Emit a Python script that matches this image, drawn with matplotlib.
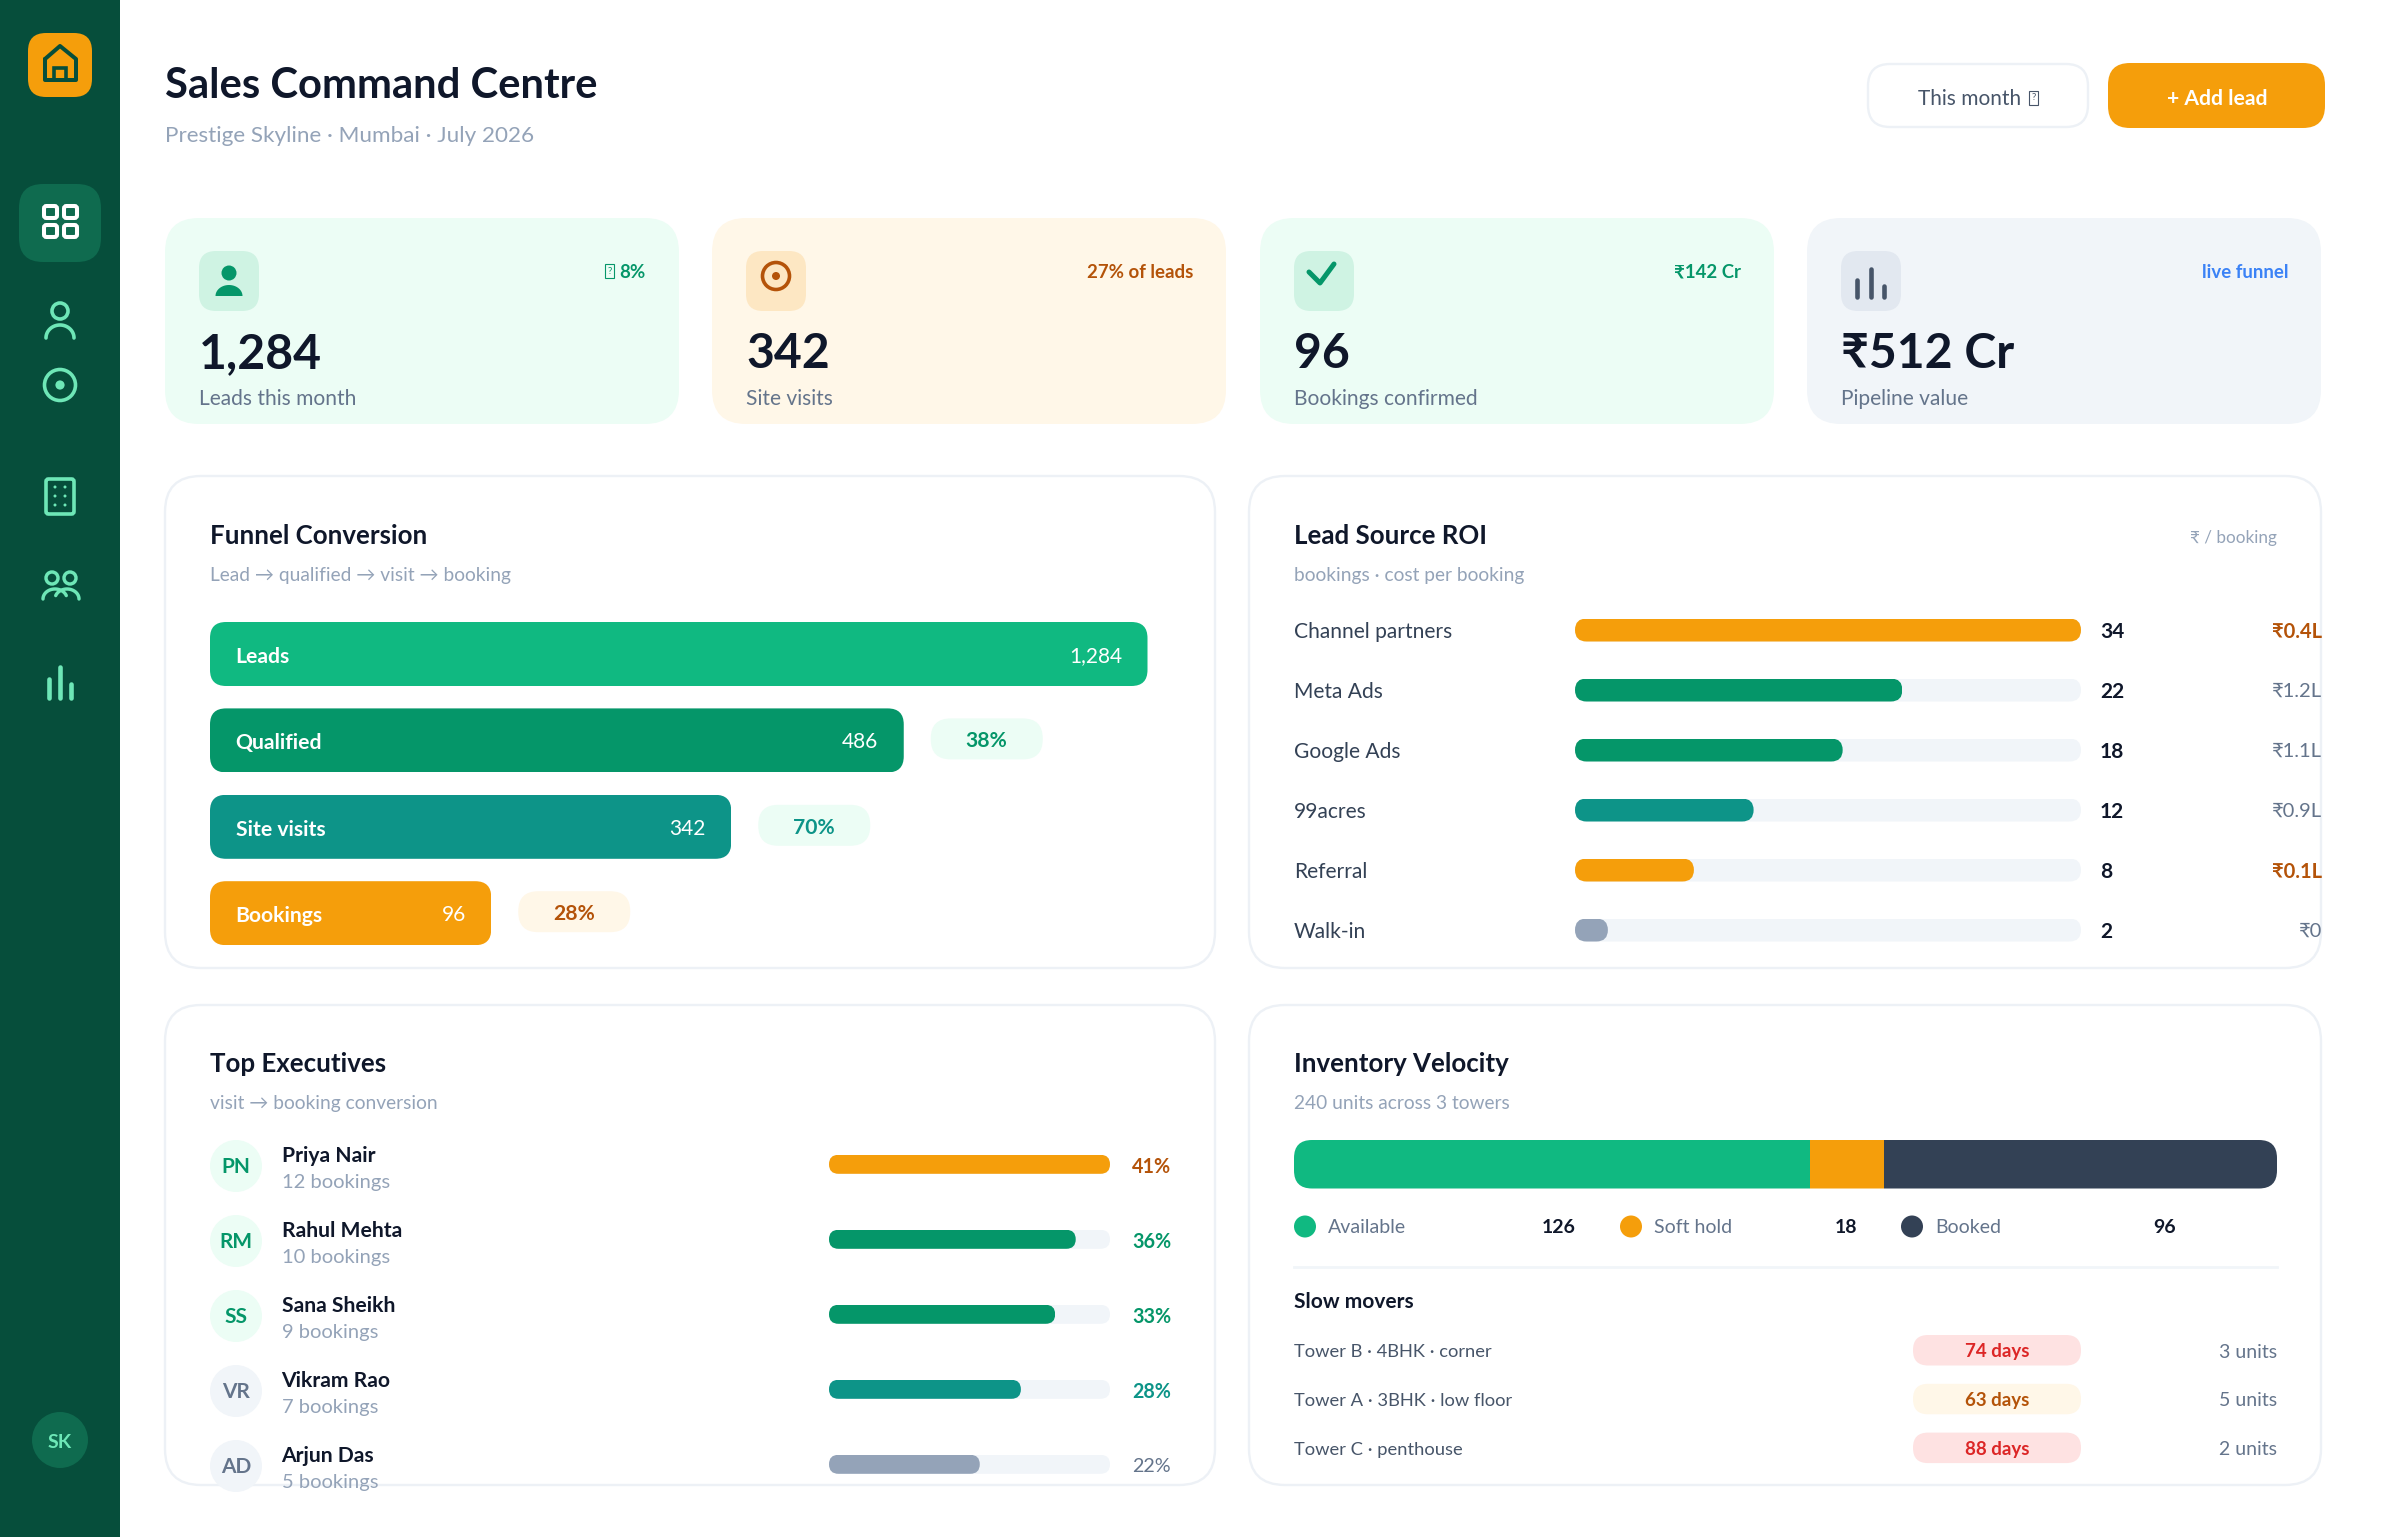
import numpy as np
import matplotlib
matplotlib.use("Agg")
import matplotlib.pyplot as plt
from matplotlib.patches import FancyBboxPatch, Circle, Rectangle

plt.rcParams['font.family'] = ['Lato', 'Noto Sans', 'DejaVu Sans']

# === Datos ===
kpi_values = ["1,284", "342", "96", "₹512 Cr"]
kpi_labels = ["Leads this month", "Site visits", "Bookings confirmed", "Pipeline value"]
kpi_badges = ["8%", "27% of leads", "₹142 Cr", "live funnel"]

funnel_names = ["Leads", "Qualified", "Site visits", "Bookings"]
funnel_counts = ["1,284", "486", "342", "96"]
funnel_width_pct = [100, 74, 55.6, 30]
funnel_rates = ["", "38%", "70%", "28%"]

roi_sources = ["Channel partners", "Meta Ads", "Google Ads", "99acres", "Referral", "Walk-in"]
roi_bookings = [34, 22, 18, 12, 8, 2]
roi_fill_pct = [100, 64.7, 52.9, 35.3, 23.5, 6.5]
roi_costs = ["₹0.4L", "₹1.2L", "₹1.1L", "₹0.9L", "₹0.1L", "₹0"]

exec_initials = ["PN", "RM", "SS", "VR", "AD"]
exec_names = ["Priya Nair", "Rahul Mehta", "Sana Sheikh", "Vikram Rao", "Arjun Das"]
exec_bookings = [12, 10, 9, 7, 5]
exec_conversion = [41, 36, 33, 28, 22]

inv_labels = ["Available", "Soft hold", "Booked"]
inv_units = [126, 18, 96]

slow_names = ["Tower B · 4BHK · corner", "Tower A · 3BHK · low floor", "Tower C · penthouse"]
slow_days = [74, 63, 88]
slow_units = [3, 5, 2]

# === Colores ===
SIDE = "#064E3B"
SIDE2 = "#0F6B4F"
MINT = "#6EE7B7"
INK = "#0F172A"
SLATE = "#64748B"
SLATE2 = "#475569"
MUTED = "#94A3B8"
LINE = "#EDF1F6"
TRACK = "#F1F5F9"
GREEN = "#10B981"
GREEN2 = "#059669"
TEAL = "#0D9488"
AMBER = "#F59E0B"
BROWN = "#B45309"
NAVY = "#334155"
RED = "#DC2626"

W, H = 2400, 1538
fig = plt.figure(figsize=(W / 100, H / 100), dpi=100, facecolor="white")

# bg: tarjetas, sub-ejes: barras, fg: textos e iconos
bg = fig.add_axes([0, 0, 1, 1], zorder=0)
fg = fig.add_axes([0, 0, 1, 1], zorder=2)
for a in (bg, fg):
    a.set_xlim(0, W)
    a.set_ylim(H, 0)
    a.axis("off")
    a.patch.set_alpha(0)


def rbox(ax, x, y, w, h, r, fc, ec="none", lw=0):
    p = FancyBboxPatch((x, y), w, h, boxstyle=f"round,pad=0,rounding_size={r}",
                       fc=fc, ec=ec, lw=lw)
    ax.add_patch(p)
    return p


def txt(x, y, s, size, color, weight="normal", ha="left"):
    fg.text(x, y, s, fontsize=size, color=color, fontweight=weight, ha=ha, va="center")


def line(xs, ys, color, lw):
    fg.plot(xs, ys, color=color, lw=lw * 0.72, solid_capstyle="round", solid_joinstyle="round")


def arc(cx, cy, rx, ry, a0, a1, color, lw):
    t = np.radians(np.linspace(a0, a1, 60))
    line(cx + rx * np.cos(t), cy + ry * np.sin(t), color, lw)


def ring(cx, cy, r, color, lw):
    fg.add_patch(Circle((cx, cy), r, fc="none", ec=color, lw=lw * 0.72))


def dot(cx, cy, r, color):
    fg.add_patch(Circle((cx, cy), r, fc=color, ec="none"))


def tofu(x, y, color):
    # el glifo que falta en la referencia
    fg.add_patch(Rectangle((x, y - 7), 9, 14, fc="none", ec=color, lw=0.8))
    fg.text(x + 4.5, y, "?", fontsize=7, color=color, ha="center", va="center")


def sub_axes(x, y, w, h, xlim, ylim):
    a = fig.add_axes([x / W, 1 - (y + h) / H, w / W, h / H], zorder=1)
    a.set_xlim(*xlim)
    a.set_ylim(*ylim)
    a.axis("off")
    a.patch.set_alpha(0)
    return a


def round_clip(ax, bar, r):
    # recorta la barra con esquinas redondeadas, en pixeles de la imagen
    x, y = bar.get_x(), bar.get_y()
    pts = ax.transData.transform([(x, y), (x + bar.get_width(), y + bar.get_height())])
    (x0, y0), (x1, y1) = bg.transData.inverted().transform(pts)
    clip = FancyBboxPatch((min(x0, x1), min(y0, y1)), abs(x1 - x0), abs(y1 - y0),
                          boxstyle=f"round,pad=0,rounding_size={r}",
                          transform=bg.transData)
    bar.set_clip_path(clip)


def round_barh(ax, rows, vals, colors, height, r):
    bars = ax.barh(rows, vals, height=height, color=colors, lw=0)
    for b in bars:
        round_clip(ax, b, r)
    return bars


# === Barra lateral ===
bg.add_patch(Rectangle((0, 0), 120, 1537, fc=SIDE, ec="none"))
rbox(bg, 28, 33, 64, 64, 18, AMBER)
line([45, 60, 76, 76, 45, 45], [59, 46, 59, 80, 80, 59], SIDE, 4)
fg.add_patch(Rectangle((54, 68), 12, 12, fc="none", ec=SIDE, lw=2.6))

rbox(bg, 19, 184, 82, 78, 24, SIDE2)
for gx, gy in [(44, 206), (64, 206), (44, 225), (64, 225)]:
    fg.add_patch(FancyBboxPatch((gx, gy), 13, 12, boxstyle="round,pad=0,rounding_size=2.5",
                                fc="none", ec="white", lw=2.9))

ring(60, 311, 8, MINT, 3.6)
arc(60, 338, 14, 13, 180, 360, MINT, 3.6)
ring(60, 385, 15.5, MINT, 3.6)
dot(60, 385, 4.6, MINT)
fg.add_patch(FancyBboxPatch((46, 479), 28, 35, boxstyle="round,pad=0,rounding_size=2.5",
                            fc="none", ec=MINT, lw=2.6))
for dx in (55, 65):
    for dy in (487, 496, 505):
        dot(dx, dy, 1.5, MINT)
ring(52, 578, 6, MINT, 3.4)
ring(70, 578, 6, MINT, 3.4)
arc(55, 599, 12, 10, 180, 340, MINT, 3.4)
arc(67, 599, 12, 10, 200, 360, MINT, 3.4)
line([49, 49], [679, 698], MINT, 4.6)
line([60, 60], [667, 698], MINT, 4.6)
line([71, 71], [684, 698], MINT, 4.6)
dot(60, 1440, 28, SIDE2)
txt(60, 1442, "SK", 14, MINT, "bold", "center")

# === Cabecera ===
txt(165, 86, "Sales Command Centre", 30.1, INK, "bold")
txt(165, 136, "Prestige Skyline · Mumbai · July 2026", 16.2, MUTED)
rbox(bg, 1868, 64, 220, 63, 22, "white", LINE, 1.7)
txt(1918, 99, "This month", 15, SLATE2)
tofu(2029, 98, SLATE2)
rbox(bg, 2108, 63, 217, 65, 22, AMBER)
txt(2217, 99, "+ Add lead", 15.2, "white", "bold", "center")

# === KPI ===
kpi_x = [165, 712, 1260, 1807]
kpi_bg = ["#ECFDF5", "#FFF7E8", "#ECFDF5", "#F1F5F9"]
kpi_icon_bg = ["#CFF3E3", "#FDE7C3", "#CFF3E3", "#E2E8F0"]
badge_col = [GREEN2, BROWN, GREEN2, "#3B82F6"]
for i, cx in enumerate(kpi_x):
    rbox(bg, cx, 218, 514, 206, 34, kpi_bg[i])
    rbox(bg, cx + 34, 251, 60, 60, 17, kpi_icon_bg[i])
    txt(cx + 34, 354, kpi_values[i], 34.7, INK, "bold")
    txt(cx + 34, 399, kpi_labels[i], 15.1, SLATE)
    txt(cx + 481, 272.5, kpi_badges[i], 13.4, badge_col[i], "bold", "right")
tofu(605, 271, GREEN2)

# iconos de los KPI
dot(229, 273, 7.5, GREEN2)
t = np.radians(np.linspace(180, 360, 40))
fg.fill(229 + 13.5 * np.cos(t), 296 + 11 * np.sin(t), color=GREEN2, lw=0)
ring(776, 276, 13.5, BROWN, 3.6)
dot(776, 276, 4, BROWN)
line([1309, 1320, 1334], [272, 283, 264], GREEN2, 5)
line([1857, 1857], [280, 297], SLATE2, 4.6)
line([1871, 1871], [269, 297], SLATE2, 4.6)
line([1884, 1884], [286, 297], SLATE2, 4.6)

# === Tarjetas ===
for (x0, y0, wd, ht) in [(165, 476, 1050, 492), (1249, 476, 1072, 492),
                         (165, 1005, 1050, 480), (1249, 1005, 1072, 480)]:
    rbox(bg, x0, y0, wd, ht, 36, "white", LINE, 1.7)

# === Funnel ===
txt(210, 536.5, "Funnel Conversion", 18.6, INK, "bold")
txt(210, 575.5, "Lead → qualified → visit → booking", 13.8, MUTED)
funnel_colors = [GREEN, GREEN2, TEAL, AMBER]
pitch = 86.4
fx, fw = 210, 937.5
fy = 654
ax_f = sub_axes(fx, fy - pitch / 2, fw, pitch * 4, (0, 100), (3.5, -0.5))
round_barh(ax_f, range(4), funnel_width_pct, funnel_colors, 64 / pitch, 16)
rate_bg = [None, "#ECFDF5", "#ECFDF5", "#FFF7E8"]
rate_col = [None, GREEN2, TEAL, BROWN]
for i, name in enumerate(funnel_names):
    yy = fy + i * pitch
    right = fx + fw * funnel_width_pct[i] / 100
    txt(235.5, yy + 3, name, 15.2, "white", "bold")
    txt(right - 25.5, yy + 2, funnel_counts[i], 15, "white", "normal", "right")
    if funnel_rates[i]:
        rbox(fg, right + 27, yy - 22, 112, 41, 20, rate_bg[i])
        txt(right + 83, yy + 1, funnel_rates[i], 15.2, rate_col[i], "bold", "center")

# === Lead Source ROI ===
txt(1294, 536.5, "Lead Source ROI", 18.6, INK, "bold")
txt(1294, 575.5, "bookings · cost per booking", 13.8, MUTED)
txt(2277, 538, "₹ / booking", 12.3, MUTED, "normal", "right")
pitch = 60
ry = 630
ax_r = sub_axes(1575, ry - pitch / 2, 506, pitch * 6, (0, 100), (5.5, -0.5))
round_barh(ax_r, range(6), [100] * 6, TRACK, 23 / pitch, 11.5)
roi_colors = [AMBER, GREEN2, GREEN2, TEAL, AMBER, MUTED]
round_barh(ax_r, range(6), roi_fill_pct, roi_colors, 23 / pitch, 11.5)
for i, src in enumerate(roi_sources):
    yy = ry + i * pitch
    txt(1294, yy + 1.5, src, 15.1, NAVY)
    txt(2100, yy + 1.5, str(roi_bookings[i]), 15, INK, "bold")
    best = roi_costs[i] in ("₹0.4L", "₹0.1L")
    txt(2322, yy + 1.5, roi_costs[i], 14.5, BROWN if best else SLATE, "bold" if best else "normal", "right")

# === Top Executives ===
txt(210, 1064.5, "Top Executives", 18.6, INK, "bold")
txt(210, 1103.5, "visit → booking conversion", 13.8, MUTED)
pitch = 75
ey = 1166
ax_e = sub_axes(829, ey - 1.7 - pitch / 2, 281, pitch * 5, (0, max(exec_conversion)), (4.5, -0.5))
round_barh(ax_e, range(5), [max(exec_conversion)] * 5, TRACK, 19 / pitch, 9.5)
exec_colors = [AMBER, GREEN2, GREEN2, TEAL, MUTED]
round_barh(ax_e, range(5), exec_conversion, exec_colors, 19 / pitch, 9.5)
pct_colors = [BROWN, GREEN2, GREEN2, TEAL, SLATE]
for i, ini in enumerate(exec_initials):
    yy = ey + i * pitch
    dot(236, yy, 26, "#ECFDF5" if i < 3 else TRACK)
    txt(236, yy + 1, ini, 15, GREEN2 if i < 3 else SLATE, "bold", "center")
    txt(281.5, yy - 10, exec_names[i], 15.2, INK, "bold")
    txt(281.5, yy + 16.5, f"{exec_bookings[i]} bookings", 14.5, MUTED)
    txt(1171, yy + 1, f"{exec_conversion[i]}%", 14.2, pct_colors[i], "bold" if i < 4 else "normal", "right")

# === Inventory Velocity ===
txt(1294, 1064.5, "Inventory Velocity", 18.6, INK, "bold")
txt(1294, 1103.5, "240 units across 3 towers", 13.8, MUTED)
ax_i = sub_axes(1294, 1140, 983, 48.5, (0, sum(inv_units)), (0.5, -0.5))
inv_colors = [GREEN, AMBER, NAVY]
left = 0
for u, c in zip(inv_units, inv_colors):
    seg = ax_i.barh([0], [u], left=left, height=1, color=c, lw=0)[0]
    left += u
    # recorte comun a toda la barra
    clip = FancyBboxPatch((1294, 1140), 983, 48.5, boxstyle="round,pad=0,rounding_size=18",
                          transform=bg.transData)
    seg.set_clip_path(clip)
leg_dot = [1305, 1631, 1912]
leg_txt = [1328, 1654, 1935]
leg_val = [1576, 1857, 2176]
for i, lab in enumerate(inv_labels):
    dot(leg_dot[i], 1226.5, 11, inv_colors[i])
    txt(leg_txt[i], 1227.5, lab, 14, SLATE)
    txt(leg_val[i], 1227.5, str(inv_units[i]), 14, INK, "bold", "right")
bg.plot([1294, 2277], [1267, 1267], color=TRACK, lw=2)
txt(1294, 1302, "Slow movers", 15, INK, "bold")
pill_bg = ["#FEE2E2", "#FFF7E8", "#FEE2E2"]
pill_col = [RED, BROWN, RED]
for i, name in enumerate(slow_names):
    yy = 1351 + i * 48.8
    txt(1294, yy + 1, name, 13.2, SLATE2)
    rbox(fg, 1913, yy - 16, 168, 30.5, 15, pill_bg[i])
    txt(1997, yy + 1, f"{slow_days[i]} days", 13.5, pill_col[i], "bold", "center")
    txt(2277, yy + 1, f"{slow_units[i]} units", 14, SLATE, "normal", "right")

fig.savefig("out.png", dpi=100, facecolor="white")
